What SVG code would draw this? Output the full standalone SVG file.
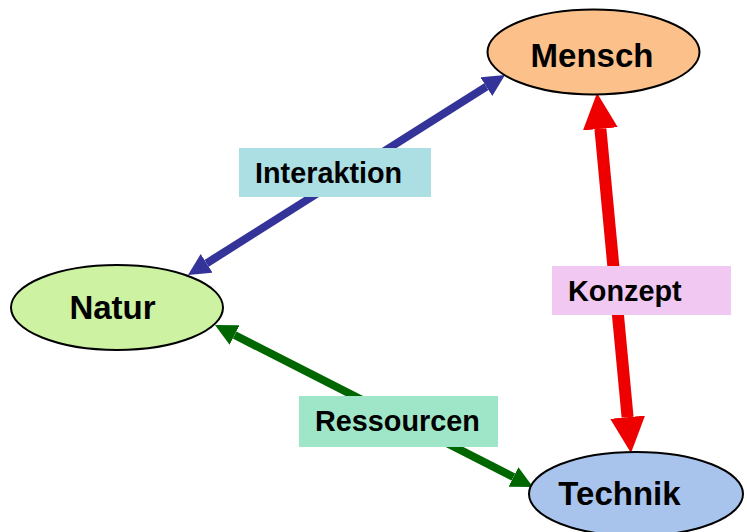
<svg xmlns="http://www.w3.org/2000/svg" width="747" height="532" viewBox="0 0 747 532">
  <style>
    .node { stroke: #000; stroke-width: 2; }
    .ntext { font-family: "Liberation Sans", Arial, sans-serif; font-weight: bold; font-size: 33px; fill: #000; text-anchor: middle; }
    .ltext { font-family: "Liberation Sans", Arial, sans-serif; font-weight: bold; font-size: 28.8px; fill: #000; }
  </style>
  <defs>
    <marker id="hBlue" markerUnits="userSpaceOnUse" markerWidth="22" markerHeight="22" refX="0" refY="11" orient="auto-start-reverse" viewBox="0 0 22 22">
      <path d="M0,0 L22,11 L0,22 z" fill="#333399"/>
    </marker>
    <marker id="hGreen" markerUnits="userSpaceOnUse" markerWidth="22" markerHeight="22" refX="0" refY="11" orient="auto-start-reverse" viewBox="0 0 22 22">
      <path d="M0,0 L22,11 L0,22 z" fill="#006600"/>
    </marker>
    <marker id="hRed" markerUnits="userSpaceOnUse" markerWidth="36" markerHeight="35" refX="0" refY="17.5" orient="auto-start-reverse" viewBox="0 0 36 35">
      <path d="M0,0 L36,17.5 L0,35 z" fill="#ee0000"/>
    </marker>
  </defs>

  <g id="connectors">
    <line x1="206.6" y1="263.3" x2="486.4" y2="86.7" stroke="#333399" stroke-width="8" marker-start="url(#hBlue)" marker-end="url(#hBlue)"/>
    <line x1="600.4" y1="128.8" x2="627.6" y2="417.2" stroke="#ee0000" stroke-width="12" marker-start="url(#hRed)" marker-end="url(#hRed)"/>
    <line x1="234.6" y1="335" x2="513.4" y2="477" stroke="#006600" stroke-width="8" marker-start="url(#hGreen)" marker-end="url(#hGreen)"/>
  </g>

  <g id="mensch">
    <ellipse class="node" cx="593.5" cy="52" rx="106" ry="42.5" fill="#fcc08a"/>
    <text class="ntext" x="592" y="67">Mensch</text>
  </g>
  <g id="natur">
    <ellipse class="node" cx="117" cy="307.5" rx="106" ry="42.5" fill="#ccf2a2"/>
    <text class="ntext" x="112.5" y="319">Natur</text>
  </g>
  <g id="technik">
    <ellipse class="node" cx="636" cy="494" rx="107" ry="42" fill="#a8c4ec"/>
    <text class="ntext" x="619.5" y="505">Technik</text>
  </g>

  <g id="label-interaktion">
    <rect x="239" y="148" width="192" height="49" fill="#abdfe4"/>
    <text class="ltext" x="255" y="183">Interaktion</text>
  </g>
  <g id="label-konzept">
    <rect x="552" y="266" width="179" height="49" fill="#f0c8f2"/>
    <text class="ltext" x="568" y="301">Konzept</text>
  </g>
  <g id="label-ressourcen">
    <rect x="299" y="396" width="199" height="51" fill="#9fe6c8"/>
    <text class="ltext" x="315" y="431">Ressourcen</text>
  </g>
</svg>
